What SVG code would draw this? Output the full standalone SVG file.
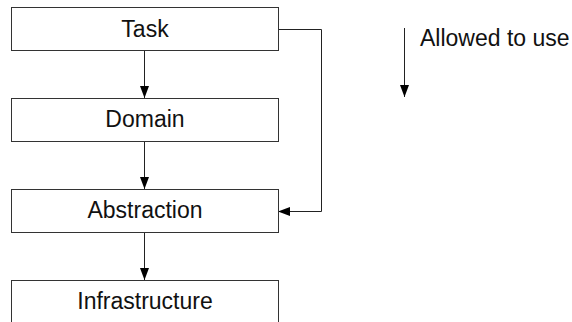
<svg xmlns="http://www.w3.org/2000/svg" width="572" height="322" viewBox="0 0 572 322">
<defs>
<marker id="ah" viewBox="0 0 12 9" refX="12" refY="4.5" markerWidth="12" markerHeight="9" markerUnits="userSpaceOnUse" orient="auto">
<path d="M0,0 L12,4.5 L0,9 Z" fill="#000"/>
</marker>
<style>
.box{fill:#fff;stroke:#333;stroke-width:1}
.lbl{font-family:"Liberation Sans",Arial,sans-serif;font-size:23px;fill:#111;text-anchor:middle}
.con{fill:none;stroke:#222;stroke-width:1}
</style>
</defs>
<rect width="572" height="322" fill="#fff"/>
<g id="connectors">
<path class="con" d="M144.5,50 V98" marker-end="url(#ah)"/>
<path class="con" d="M144.5,141 V189" marker-end="url(#ah)"/>
<path class="con" d="M144.5,232 V280" marker-end="url(#ah)"/>
<path class="con" d="M278,29.5 H321.5 V211.5 H278" marker-end="url(#ah)"/>
</g>
<g id="task">
<rect class="box" x="11.5" y="7.5" width="267" height="43"/>
<text class="lbl" x="145" y="36.5">Task</text>
</g>
<g id="domain">
<rect class="box" x="11.5" y="98.5" width="267" height="43"/>
<text class="lbl" x="145" y="127">Domain</text>
</g>
<g id="abstraction">
<rect class="box" x="11.5" y="189.5" width="267" height="43"/>
<text class="lbl" x="145" y="218">Abstraction</text>
</g>
<g id="infrastructure">
<rect class="box" x="11.5" y="280.5" width="267" height="43"/>
<text class="lbl" x="145" y="309">Infrastructure</text>
</g>
<g id="legend">
<path class="con" d="M404.5,28 V97" marker-end="url(#ah)"/>
<text x="420" y="46" style="font-family:'Liberation Sans',Arial,sans-serif;font-size:23px;fill:#111">Allowed to use</text>
</g>
</svg>
